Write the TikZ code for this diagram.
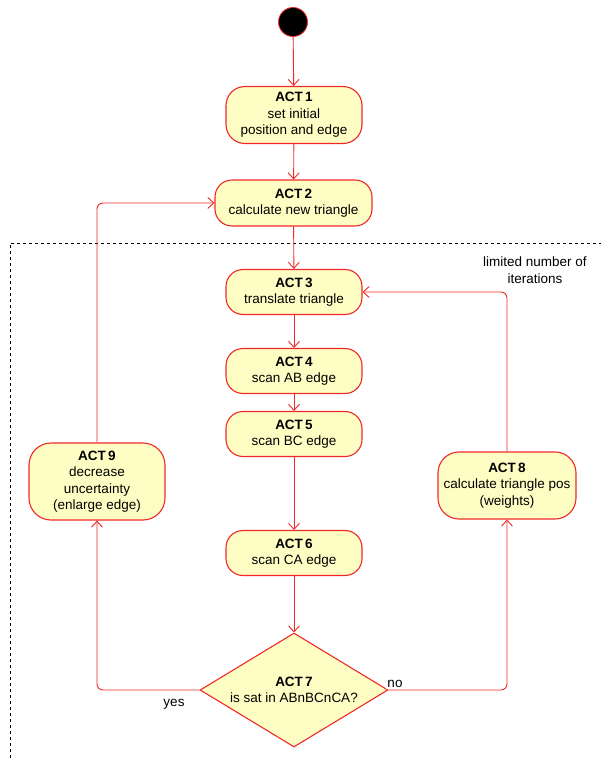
\documentclass[tikz,border=0pt]{standalone}
\usepackage{fontspec}
\setmainfont{Liberation Sans}
\usetikzlibrary{arrows.meta,shapes.geometric}
\definecolor{boxfill}{RGB}{254,254,196}
\definecolor{lred}{RGB}{240,40,40}
\tikzset{
  act/.style={draw=lred, fill=boxfill, line width=1.1pt, rounded corners=19pt, align=center, inner sep=0pt, font=\fontsize{13.5}{16.5}\selectfont},
  dec/.style={draw=lred, fill=boxfill, line width=1.1pt, diamond, aspect=1.65, align=center, inner sep=0pt, font=\fontsize{13.5}{16.5}\selectfont},
  flow/.style={draw=lred, line width=0.9pt, rounded corners=6pt, -{Straight Barb[length=6pt,width=11pt,line width=0.9pt]}},
  lbl/.style={font=\fontsize{13.5}{16.5}\selectfont, inner sep=1pt, align=center}
}
\begin{document}
\begin{tikzpicture}[x=1pt,y=-1pt]
\useasboundingbox (0,0) rectangle (601,758);
% dashed frame
\draw[dashed, line width=0.7pt] (10,758) -- (10,243) -- (601,243);
% start
\node[circle, fill=black, draw=lred, line width=0.8pt, minimum size=29pt, inner sep=0pt] (start) at (293,22) {};
% activities
\node[act, minimum width=136pt, minimum height=57pt] (a1) at (294,115) {\textbf{ACT\,1}\\set initial\\position and edge};
\node[act, minimum width=157pt, minimum height=46pt, rounded corners=17pt] (a2) at (293.5,203) {\textbf{ACT\,2}\\calculate new triangle};
\node[act, minimum width=136pt, minimum height=45pt, rounded corners=17pt] (a3) at (294,292) {\textbf{ACT\,3}\\translate triangle};
\node[act, minimum width=136pt, minimum height=45pt, rounded corners=17pt] (a4) at (294,371) {\textbf{ACT\,4}\\scan AB edge};
\node[act, minimum width=136pt, minimum height=45pt, rounded corners=17pt] (a5) at (294,434) {\textbf{ACT\,5}\\scan BC edge};
\node[act, minimum width=136pt, minimum height=45pt, rounded corners=17pt] (a6) at (294,553) {\textbf{ACT\,6}\\scan CA edge};
\node[dec, minimum width=188pt, minimum height=114pt] (a7) at (294,690) {\textbf{ACT\,7}\\is sat in ABnBCnCA?};
\node[act, minimum width=136pt, minimum height=77pt, rounded corners=22pt] (a9) at (97,481.5) {\textbf{ACT\,9}\\decrease\\uncertainty\\(enlarge edge)};
\node[act, minimum width=138pt, minimum height=67pt, rounded corners=21pt] (a8) at (507,485.5) {\textbf{ACT\,8}\\calculate triangle pos\\(weights)};
% labels
\node[lbl] (lim) at (535,270) {limited number of\\iterations};
\node[lbl] (yes) at (174,704) {yes};
% connectors
\draw[flow] (start) -- (a1);
\draw[flow] (a1) -- (a2);
\draw[flow] (a2) -- (a3);
\draw[flow] (a3) -- (a4);
\draw[flow] (a4) -- (a5);
\draw[flow] (a5) -- (a6);
\draw[flow] (a6) -- (a7);
\draw[flow] (a7.west) -- (97,690) -- (a9.south);
\draw[flow] (a9.north) -- (97,203) -- (a2.west);
\draw[flow] (a7.east) -- (507,690) -- (a8.south);
\draw[flow] (a8.north) -- (507,292) -- (a3.east);
\node[lbl, fill=white] (no) at (395,684) {no};
\end{tikzpicture}
\end{document}
